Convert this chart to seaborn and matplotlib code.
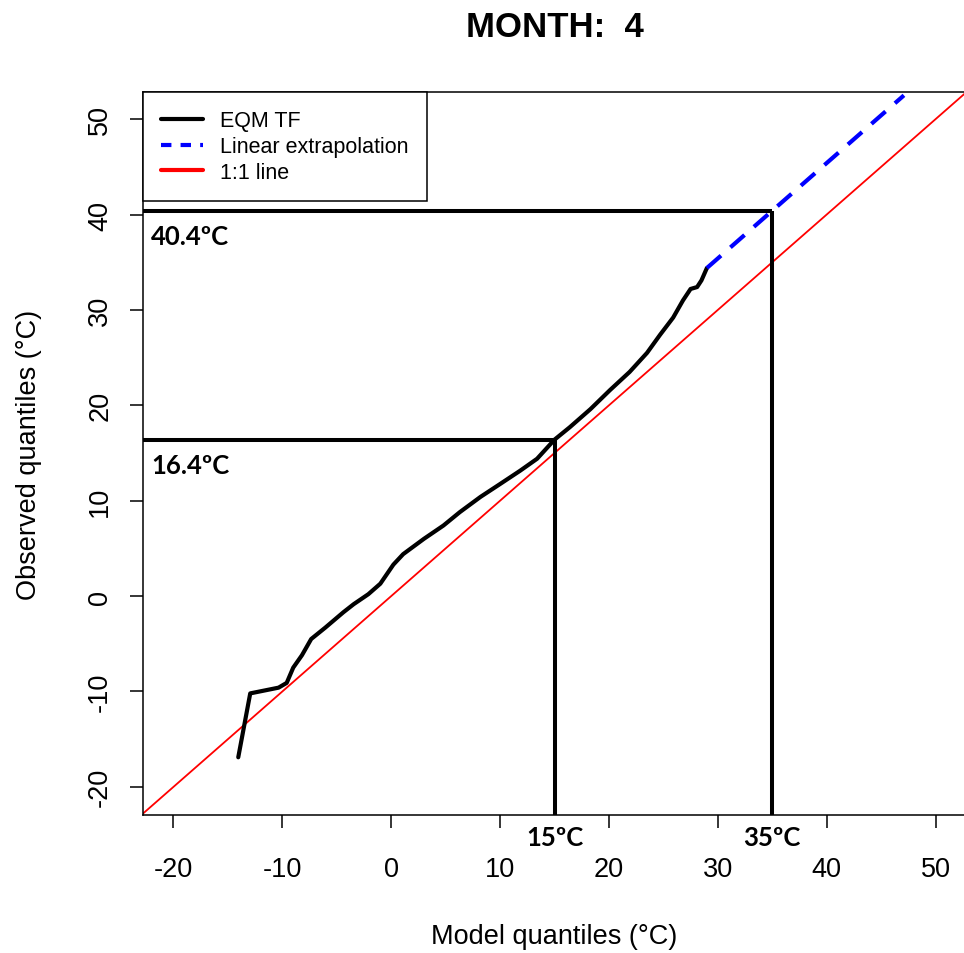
import numpy as np
import pandas as pd
import seaborn as sns
import matplotlib.pyplot as plt
from matplotlib.lines import Line2D
import matplotlib.transforms as mtransforms

# EQM transfer function (model quantile -> observed quantile)
model_q = [-14.05, -12.95, -10.35, -9.6, -9.0, -8.2, -7.35, -6.05, -4.4, -3.45,
           -2.1, -1.0, 0.2, 1.1, 3.0, 4.8, 6.3, 8.2, 10.0, 11.85,
           13.4, 15.0, 16.4, 18.3, 20.1, 21.9, 23.5, 24.7, 25.9, 26.8,
           27.5, 28.1, 28.5, 29.0]
obs_q = [-16.9, -10.2, -9.6, -9.1, -7.5, -6.2, -4.5, -3.3, -1.7, -0.85,
         0.2, 1.3, 3.3, 4.4, 6.0, 7.4, 8.8, 10.4, 11.75, 13.15,
         14.4, 16.4, 17.7, 19.6, 21.6, 23.5, 25.5, 27.4, 29.2, 31.0,
         32.2, 32.4, 33.1, 34.4]

# linear extrapolation beyond the last quantile
extrap_x = [29.0, 47.1]
extrap_y = [34.4, 52.5]

# highlighted values
ref_model = [15, 35]
ref_obs = [16.4, 40.4]
ref_model_labels = ['15ºC', '35ºC']
ref_obs_labels = ['16.4ºC', '40.4ºC']

ticks = [-20, -10, 0, 10, 20, 30, 40, 50]
xlim = (-22.8, 52.8)
ylim = (-22.95, 52.85)

eqm = pd.DataFrame({'model': model_q, 'obs': obs_q})
ext = pd.DataFrame({'model': extrap_x, 'obs': extrap_y})

sns.set_style('ticks')
plt.rcParams['font.family'] = ['Liberation Sans', 'DejaVu Sans']
plt.rcParams['axes.unicode_minus'] = False
for key in ['text.color', 'axes.labelcolor', 'xtick.color', 'ytick.color']:
    plt.rcParams[key] = 'black'

fig = plt.figure(figsize=(9.64, 9.54), dpi=100)
ax = fig.add_axes([143 / 964, (954 - 816) / 954, 823 / 964, 723 / 954])

ax.axline((0, 0), slope=1, color='red', lw=1.3, zorder=1)
sns.lineplot(data=eqm, x='model', y='obs', sort=False, color='black', lw=3, ax=ax, zorder=3)
sns.lineplot(data=ext, x='model', y='obs', sort=False, color='blue', lw=3,
             dashes=False, ax=ax, zorder=3)
ax.lines[-1].set_dashes((4.5, 3))

ax.vlines(ref_model, ylim[0], ref_obs, color='black', lw=2.9, zorder=2)
ax.hlines(ref_obs, xlim[0], ref_model, color='black', lw=2.9, zorder=2)

for x, lab in zip(ref_model, ref_model_labels):
    ax.text(x, -0.031, lab, transform=mtransforms.blended_transform_factory(ax.transData, ax.transAxes),
            ha='center', va='center', fontsize=18.5, fontweight='bold', family='Lato', clip_on=False)
for y, lab in zip(ref_obs, ref_obs_labels):
    ax.text(xlim[0] + 0.75, y - 1.4, lab, ha='left', va='top',
            fontsize=18.5, fontweight='bold', family='Lato')

ax.set_xlim(xlim)
ax.set_ylim(ylim)
ax.set_xticks(ticks)
ax.set_yticks(ticks)
ax.tick_params(axis='both', length=9.5, width=1.1, labelsize=19.5, color='black')
ax.tick_params(axis='x', pad=20)
ax.tick_params(axis='y', pad=12)
for lab in ax.get_yticklabels():
    lab.set_rotation(90)
    lab.set_va('center')
for sp in ax.spines.values():
    sp.set_color('black')
    sp.set_linewidth(1.1)

ax.set_xlabel('Model quantiles (°C)', fontsize=19.5)
ax.set_ylabel('Observed quantiles (°C)', fontsize=19.5)
ax.xaxis.set_label_coords(0.5, -0.15)
ax.yaxis.set_label_coords(-0.123, 0.5)
ax.set_title('MONTH:  4', fontsize=25, fontweight='bold', pad=40)

handles = [Line2D([], [], color='black', lw=3),
           Line2D([], [], color='blue', lw=3, dashes=(2.5, 2.2)),
           Line2D([], [], color='red', lw=3)]
leg = ax.legend(handles, ['EQM TF', 'Linear extrapolation', '1:1 line'],
                loc='upper left', bbox_to_anchor=(0, 1), borderaxespad=0,
                fontsize=15.5, fancybox=False, framealpha=1, edgecolor='black',
                handlelength=1.95, handletextpad=0.8, labelspacing=0.22,
                borderpad=0.85)
leg.get_frame().set_linewidth(1.1)

fig.savefig('out.png', dpi=100)
